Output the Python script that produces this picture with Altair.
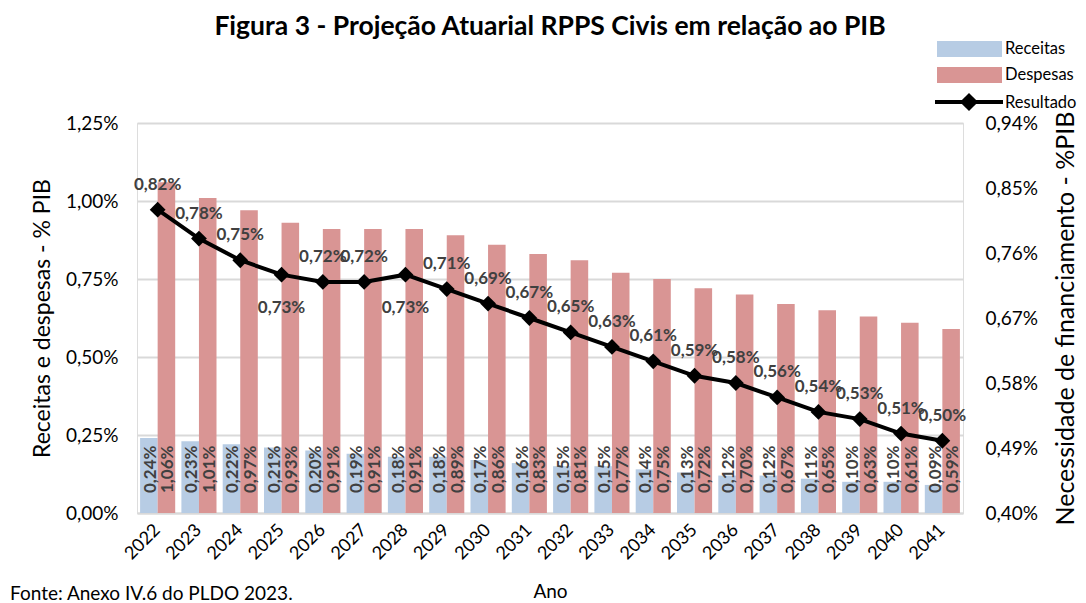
import altair as alt
import pandas as pd

anos = list(range(2022, 2042))
receitas = [0.24, 0.23, 0.22, 0.21, 0.20, 0.19, 0.18, 0.18, 0.17, 0.16,
            0.15, 0.15, 0.14, 0.13, 0.12, 0.12, 0.11, 0.10, 0.10, 0.09]
despesas = [1.06, 1.01, 0.97, 0.93, 0.91, 0.91, 0.91, 0.89, 0.86, 0.83,
            0.81, 0.77, 0.75, 0.72, 0.70, 0.67, 0.65, 0.63, 0.61, 0.59]
resultado = [0.82, 0.78, 0.75, 0.73, 0.72, 0.72, 0.73, 0.71, 0.69, 0.67,
             0.65, 0.63, 0.61, 0.59, 0.58, 0.56, 0.54, 0.53, 0.51, 0.50]
anos_rotulo_abaixo = [2025, 2028]
series = ["Receitas", "Despesas"]
cores = ["#B7CCE4", "#D99594"]
left_ticks = [0.0, 0.25, 0.5, 0.75, 1.0, 1.25]
right_ticks = [0.40, 0.49, 0.58, 0.67, 0.76, 0.85, 0.94]

FONT = "Lato"
W, H = 826, 390

bars_df = pd.DataFrame({
    "ano": [str(a) for a in anos] * 2,
    "serie": ["Receitas"] * len(anos) + ["Despesas"] * len(anos),
    "valor": receitas + despesas,
})
line_df = pd.DataFrame({"ano": [str(a) for a in anos], "valor": resultado,
                        "anoN": anos})

fmt = "replace(format(datum.value, '.2f'), '.', ',') + '%'"
lbl = "replace(format(datum.valor, '.2f'), '.', ',') + '%'"
sort_anos = [str(a) for a in anos]

x_enc = alt.X("ano:N", sort=sort_anos,
              scale=alt.Scale(paddingInner=0.15, paddingOuter=0.075),
              axis=alt.Axis(title="Ano", titleFontSize=19, titleFont=FONT,
                            titleFontWeight="normal", titleColor="#000000",
                            titleY=78, titleBaseline="middle",
                            labelAngle=-45, labelAlign="right",
                            labelBaseline="middle", labelFontSize=18,
                            labelFont=FONT, labelColor="#000000",
                            labelPadding=14, ticks=False,
                            domainColor="#D9D9D9", domainWidth=2, grid=False))

y_left = alt.Y("valor:Q",
               scale=alt.Scale(domain=[0, 1.25], nice=False),
               axis=alt.Axis(title="Receitas e despesas - % PIB",
                             values=left_ticks, labelExpr=fmt,
                             labelFontSize=19, labelFont=FONT,
                             labelColor="#000000", labelPadding=19,
                             ticks=False, domain=False,
                             gridColor="#D9D9D9", gridWidth=2,
                             titleFontSize=23, titleFont=FONT,
                             titleFontWeight="normal", titleColor="#000000",
                             titleX=-95, titleY=H / 2, titleAngle=-90,
                             titleAlign="center", titleBaseline="middle"))

bars = alt.Chart(bars_df).mark_bar().encode(
    x=x_enc,
    xOffset=alt.XOffset("serie:N", sort=series),
    y=y_left,
    color=alt.Color("serie:N", scale=alt.Scale(domain=series, range=cores),
                    legend=None),
)

bar_labels = alt.Chart(bars_df).transform_calculate(
    rot=lbl, zero="0"
).mark_text(angle=270, align="left", baseline="middle", dx=20, dy=2,
            fontSize=17, font=FONT, fontWeight="bold", color="#404040").encode(
    x=alt.X("ano:N", sort=sort_anos),
    xOffset=alt.XOffset("serie:N", sort=series),
    y=alt.Y("zero:Q"),
    text="rot:N",
)

left_layer = alt.layer(bars, bar_labels)

y_right = alt.Y("valor:Q",
                scale=alt.Scale(domain=[0.40, 0.94], nice=False, zero=False),
                axis=alt.Axis(title="Necessidade de financiamento - %PIB",
                              orient="right", values=right_ticks,
                              labelExpr=fmt, labelFontSize=19,
                              labelFont=FONT, labelColor="#000000",
                              labelPadding=22, ticks=False, domain=False,
                              grid=False, titleFontSize=25, titleFont=FONT,
                              titleFontWeight="normal", titleColor="#000000",
                              titleX=102, titleY=H / 2, titleAngle=-90,
                              titleAlign="center", titleBaseline="middle"))

line = alt.Chart(line_df).mark_line(color="#000000", strokeWidth=4).encode(
    x=alt.X("ano:N", sort=sort_anos),
    y=y_right,
)
points = alt.Chart(line_df).mark_point(shape="diamond", size=250, filled=True,
                                       color="#000000", opacity=1).encode(
    x=alt.X("ano:N", sort=sort_anos),
    y=alt.Y("valor:Q"),
)
lab_above = alt.Chart(line_df).transform_filter(
    ~alt.FieldOneOfPredicate(field="anoN", oneOf=anos_rotulo_abaixo)
).transform_calculate(rot=lbl).mark_text(
    baseline="middle", dy=-25, fontSize=17, font=FONT, fontWeight="bold",
    color="#404040").encode(
    x=alt.X("ano:N", sort=sort_anos),
    y=alt.Y("valor:Q"),
    text="rot:N",
)
lab_below = alt.Chart(line_df).transform_filter(
    alt.FieldOneOfPredicate(field="anoN", oneOf=anos_rotulo_abaixo)
).transform_calculate(rot=lbl).mark_text(
    baseline="middle", dy=33, fontSize=17, font=FONT, fontWeight="bold",
    color="#404040").encode(
    x=alt.X("ano:N", sort=sort_anos),
    y=alt.Y("valor:Q"),
    text="rot:N",
)

right_layer = alt.layer(line, points, lab_above, lab_below)

# legend and source note (decoration)
leg_rect_r = alt.Chart(pd.DataFrame({"nome": ["Receitas"]})).mark_rect(
    color=cores[0]).encode(x=alt.value(800), x2=alt.value(865),
                           y=alt.value(-82), y2=alt.value(-66))
leg_rect_d = alt.Chart(pd.DataFrame({"nome": ["Despesas"]})).mark_rect(
    color=cores[1]).encode(x=alt.value(800), x2=alt.value(865),
                           y=alt.value(-56), y2=alt.value(-40))
leg_line = alt.Chart(pd.DataFrame({"nome": ["Resultado"]})).mark_rule(
    color="#000000", strokeWidth=4).encode(x=alt.value(798), x2=alt.value(866),
                                           y=alt.value(-21))
leg_pt = alt.Chart(pd.DataFrame({"nome": ["Resultado"]})).mark_point(
    shape="diamond", size=330, filled=True, color="#000000",
    opacity=1).encode(x=alt.value(832), y=alt.value(-21))
leg_txt_r = alt.Chart(pd.DataFrame({"nome": ["Receitas"]})).mark_text(
    align="left", baseline="middle", fontSize=16.5, font=FONT,
    color="#000000").encode(x=alt.value(868), y=alt.value(-74), text="nome:N")
leg_txt_d = alt.Chart(pd.DataFrame({"nome": ["Despesas"]})).mark_text(
    align="left", baseline="middle", fontSize=16.5, font=FONT,
    color="#000000").encode(x=alt.value(868), y=alt.value(-48), text="nome:N")
leg_txt_s = alt.Chart(pd.DataFrame({"nome": ["Resultado"]})).mark_text(
    align="left", baseline="middle", fontSize=16.5, font=FONT,
    color="#000000").encode(x=alt.value(868), y=alt.value(-20), text="nome:N")
fonte = alt.Chart(pd.DataFrame({"t": ["Fonte: Anexo IV.6 do PLDO 2023."]})).mark_text(
    align="left", baseline="middle", fontSize=19, font=FONT,
    color="#000000").encode(x=alt.value(-127), y=alt.value(471), text="t:N")

legend_layer = alt.layer(leg_rect_r, leg_rect_d, leg_line, leg_pt,
                         leg_txt_r, leg_txt_d, leg_txt_s, fonte)

chart = alt.layer(left_layer, right_layer, legend_layer).resolve_scale(
    y="independent"
).properties(
    width=W, height=H,
    title=alt.Title("Figura 3 - Projeção Atuarial RPPS Civis em relação ao PIB",
                    fontSize=26.5, font=FONT, fontWeight="bold", color="#000000",
                    anchor="middle", offset=1),
    autosize=alt.AutoSizeParams(type="none"),
    padding={"left": 129, "top": 115, "right": 115, "bottom": 100},
).configure_view(stroke=None).configure(background="#FFFFFF")

chart.save("out.html", embed_options={"renderer": "svg", "actions": False})
